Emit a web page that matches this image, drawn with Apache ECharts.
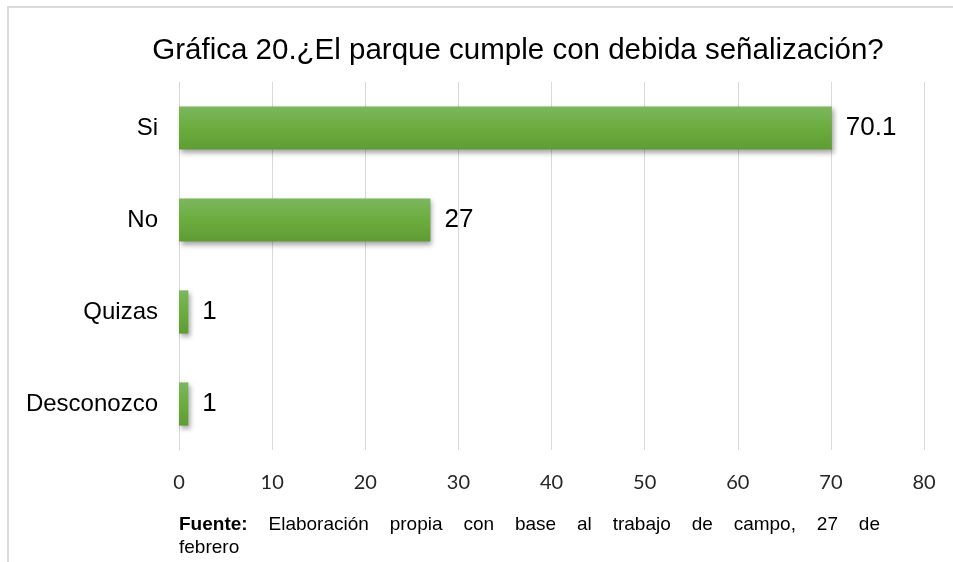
<!DOCTYPE html>
<html>
<head>
<meta charset="utf-8">
<script src="https://cdn.jsdelivr.net/npm/echarts@6/dist/echarts.min.js"></script>
<style>
  html, body { margin: 0; padding: 0; background: #fff; }
  #main { width: 953px; height: 562px; }
</style>
</head>
<body>
<div id="main"></div>
<script>
var categories = ['Si', 'No', 'Quizas', 'Desconozco'];
var values = [70.1, 27, 1, 1];
var axisTicks = [0, 10, 20, 30, 40, 50, 60, 70, 80];
var titleText = 'Gráfica 20.¿El parque cumple con debida señalización?';
var sourceBold = 'Fuente:';
var sourceLine1 = 'Elaboración propia con base al trabajo de campo, 27 de';
var sourceLine2 = 'febrero';

var chartDom = document.getElementById('main');
var myChart = echarts.init(chartDom);

var FONT = 'Liberation Sans, Arial, sans-serif';
var NOTE_SIZE = 19;

// justified first line of the source note, like the word document
var ctx = document.createElement('canvas').getContext('2d');
var words = [sourceBold].concat(sourceLine1.split(' '));
var lineLeft = 179, lineRight = 880;
var widths = words.map(function (w, i) {
  ctx.font = (i == 0 ? 'bold ' : '') + NOTE_SIZE + 'px ' + FONT;
  return ctx.measureText(w).width;
});
var totalW = widths.reduce(function (a, b) { return a + b; }, 0);
var gap = (lineRight - lineLeft - totalW) / (words.length - 1);
var noteEls = [];
var cx = lineLeft;
words.forEach(function (w, i) {
  noteEls.push({
    type: 'text', left: cx, top: 515,
    style: { text: w, fontFamily: FONT, fontSize: NOTE_SIZE, fontWeight: i == 0 ? 'bold' : 'normal', fill: '#000' }
  });
  cx += widths[i] + gap;
});
noteEls.push({
  type: 'text', left: lineLeft, top: 538,
  style: { text: sourceLine2, fontFamily: FONT, fontSize: NOTE_SIZE, fill: '#000' }
});

var option = {
  animation: false,
  backgroundColor: '#fff',
  title: {
    text: titleText,
    left: 513,
    textAlign: 'center',
    top: 31,
    textStyle: { fontFamily: FONT, fontSize: 29.5, fontWeight: 'normal', color: '#000' }
  },
  grid: { left: 179, right: 29, top: 82, height: 368 },
  xAxis: {
    type: 'value',
    min: axisTicks[0],
    max: axisTicks[axisTicks.length - 1],
    interval: 10,
    axisLine: { show: false },
    axisTick: { show: false },
    splitLine: { lineStyle: { color: '#d9d9d9', width: 1 } },
    axisLabel: { margin: 23, fontFamily: 'Lato, sans-serif', fontSize: 20, color: '#262626' }
  },
  yAxis: {
    type: 'category',
    inverse: true,
    data: categories,
    axisLine: { lineStyle: { color: '#d9d9d9', width: 1 } },
    axisTick: { show: false },
    axisLabel: { margin: 21, fontFamily: FONT, fontSize: 24, color: '#000' }
  },
  series: [{
    type: 'bar',
    data: values,
    barWidth: '47%',
    itemStyle: {
      color: new echarts.graphic.LinearGradient(0, 0, 0, 1, [
        { offset: 0, color: '#7cb75e' },
        { offset: 0.5, color: '#6cac3e' },
        { offset: 1, color: '#5f9c35' }
      ]),
      shadowColor: 'rgba(0,0,0,0.35)',
      shadowBlur: 5,
      shadowOffsetX: 2,
      shadowOffsetY: 3
    },
    label: {
      show: true,
      position: 'right',
      distance: 14,
      fontFamily: FONT,
      fontSize: 26,
      color: '#000'
    }
  }],
  graphic: [{
    type: 'rect',
    shape: { x: 8, y: 7, width: 960, height: 570 },
    style: { fill: 'none', stroke: '#d9d9d9', lineWidth: 2 },
    silent: true
  }].concat(noteEls)
};

myChart.setOption(option);
</script>
</body>
</html>
